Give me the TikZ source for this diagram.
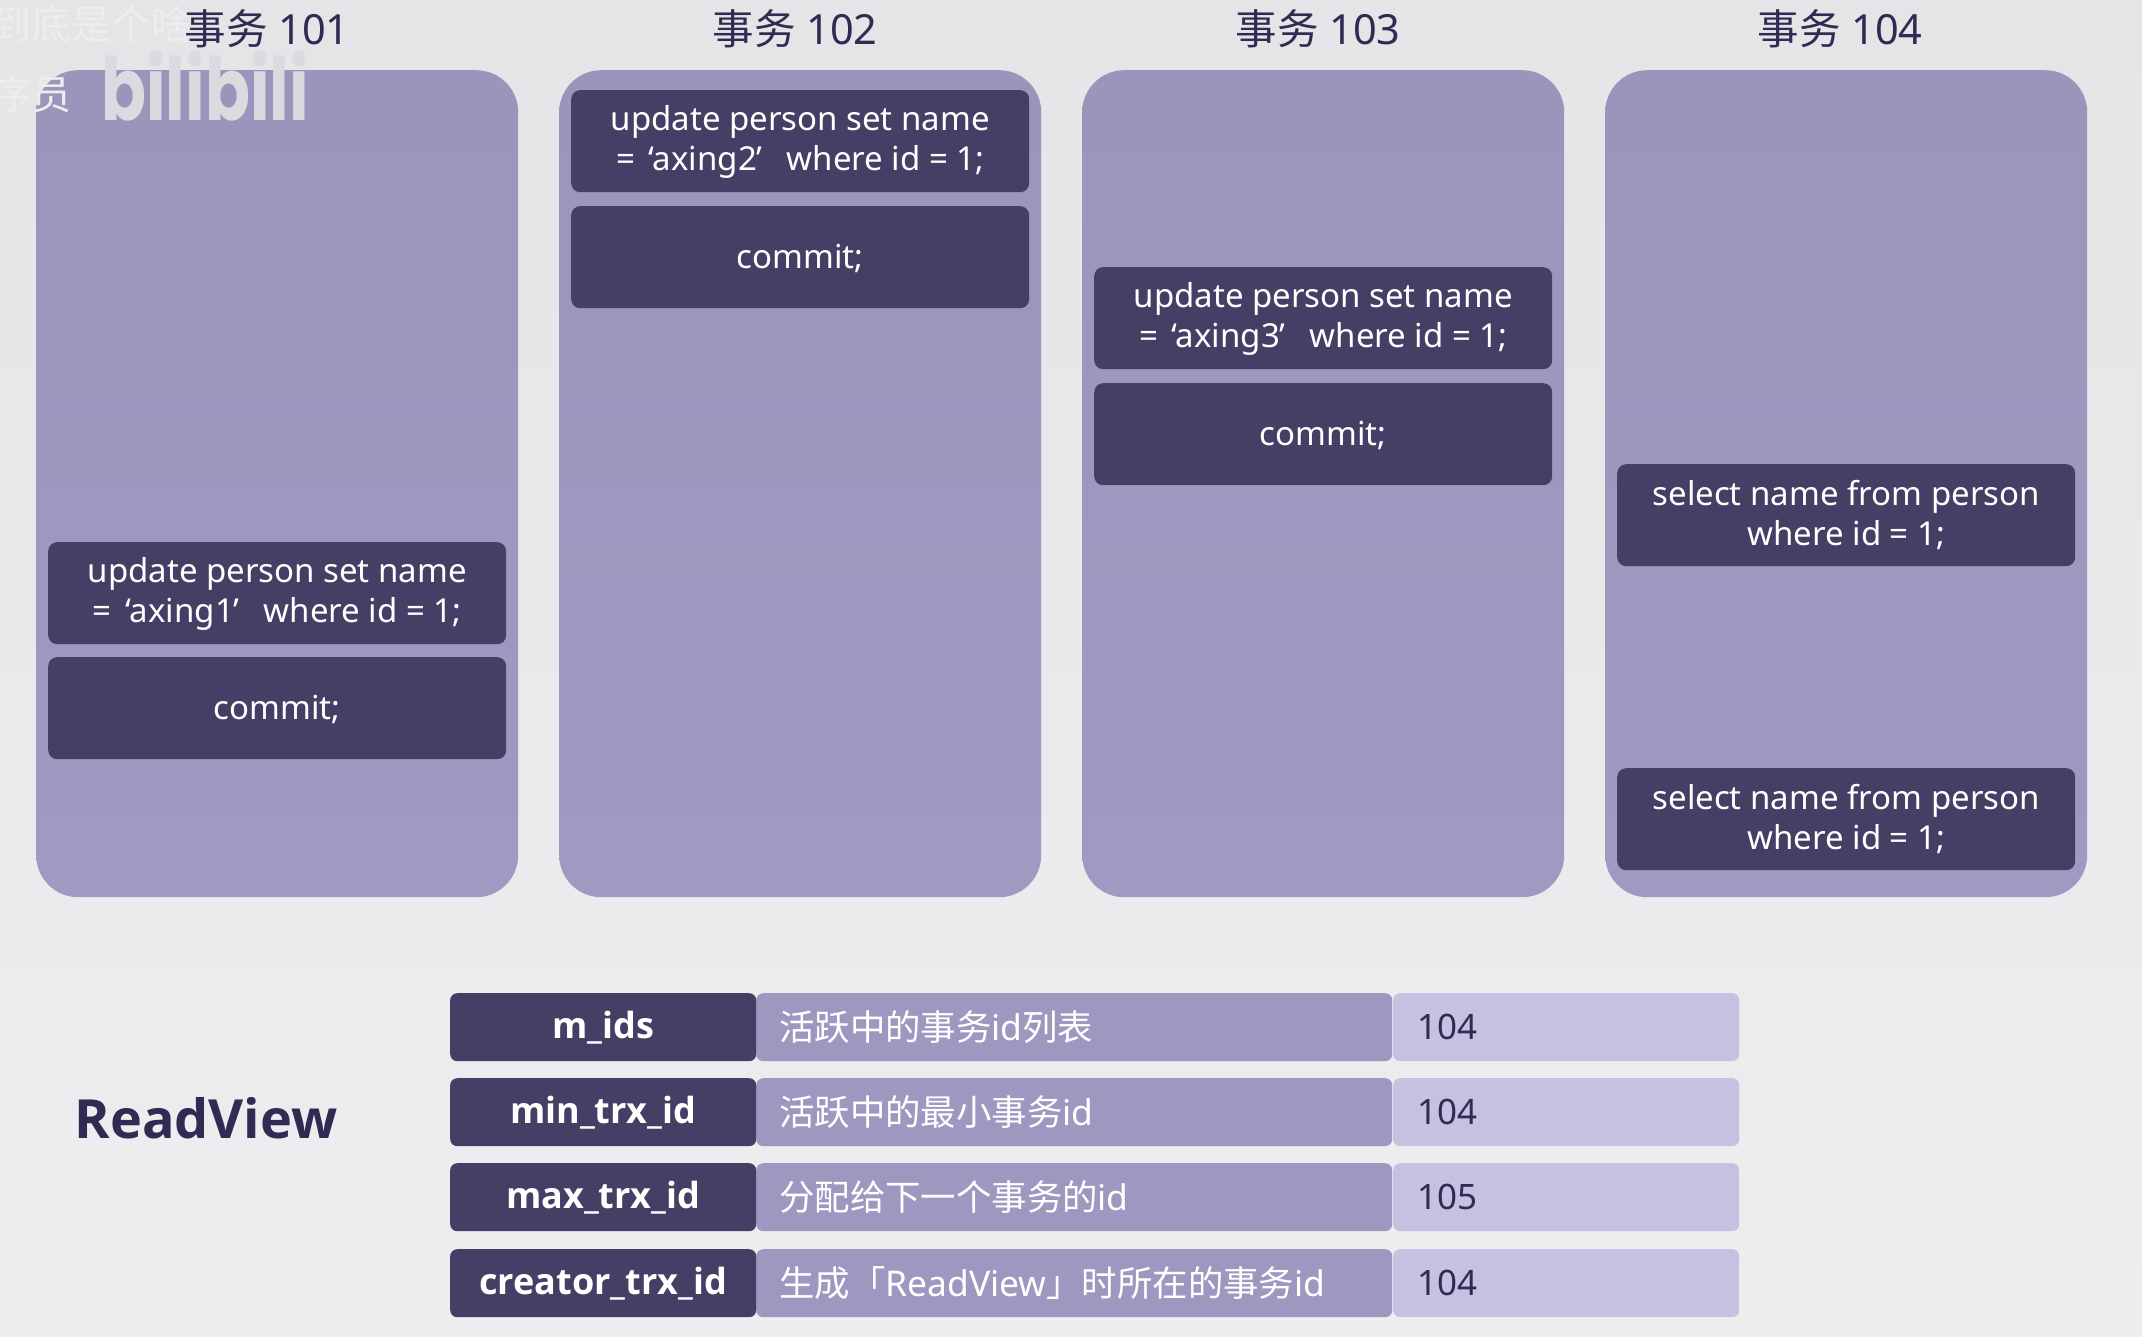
\documentclass[tikz,border=0pt]{standalone}
\usepackage{fontspec}
\setmainfont{Noto Sans}
\newfontfamily\boldface{Open Sans}
\newfontfamily\cjk{Noto Sans CJK SC}
\newfontfamily\logofont{Poppins}
\definecolor{bgtop}{HTML}{E5E4E6}
\definecolor{bgbot}{HTML}{EEEDEF}
\definecolor{colbot}{HTML}{A299C3}
\definecolor{coltop}{HTML}{9C94BA}
\definecolor{dark}{HTML}{463E64}
\definecolor{mid}{HTML}{A097C0}
\definecolor{light}{HTML}{C7C0E1}
\definecolor{ink}{HTML}{2F2B52}
\definecolor{wm}{HTML}{DBDAE1}
\definecolor{wmfaint}{HTML}{EDECEF}
\tikzset{
  x=1pt,y=-1pt,
  column/.style={anchor=north west,inner sep=0pt,minimum width=482pt,minimum height=827pt,rounded corners=42pt,top color=coltop,bottom color=colbot,draw=none},
  stmt/.style={anchor=north west,inner sep=0pt,minimum width=458pt,minimum height=102pt,rounded corners=9pt,fill=dark,text=white},
  stmttext/.style={inner sep=0pt,text=white,align=center,font=\fontsize{33}{40}\selectfont},
  head/.style={text=ink,font=\fontsize{41.5}{44}\selectfont,inner sep=0pt},
  keycell/.style={anchor=north west,inner sep=0pt,minimum width=306pt,minimum height=68pt,rounded corners=7pt,fill=dark,text=white,font=\boldface\fontsize{36}{40}\selectfont\bfseries},
  desccell/.style={anchor=north west,inner sep=0pt,minimum width=636pt,minimum height=68pt,rounded corners=7pt,fill=mid},
  valcell/.style={anchor=north west,inner sep=0pt,minimum width=346pt,minimum height=68pt,rounded corners=7pt,fill=light},
  desctext/.style={anchor=west,inner sep=0pt,text=white,font=\fontsize{35.4}{40}\selectfont},
  valtext/.style={anchor=west,inner sep=0pt,text=ink,font=\fontsize{35}{40}\selectfont},
  title/.style={text=ink,inner sep=0pt,font=\boldface\fontsize{54}{60}\selectfont\bfseries},
  wmtext/.style={text=wm,inner sep=0pt,font=\fontsize{40}{44}\selectfont},
}
\newcommand{\upd}[1]{update person set name\\=\hspace{5pt} ‘axing#1’\hspace{24pt}where id = 1;}
\newcommand{\sel}{select name from person\\where id = 1;}
\begin{document}
\begin{tikzpicture}
\useasboundingbox (0,0) rectangle (2142,1337);
\shade[top color=bgtop,bottom color=bgbot] (0,0) rectangle (2142,1337);
% transaction columns
\node[column] (c1) at (36,70) {};
\node[column] (c2) at (559,70) {};
\node[column] (c3) at (1082,70) {};
\node[column] (c4) at (1605,70) {};
% watermark
\node[wmtext,text=wmfaint,anchor=east] (wm1) at (192,24) {\cjk 到底是个啥};
\node[wmtext,text=wmfaint,anchor=east] (wm2) at (72,94) {\cjk 序员};
\node[text=wm,inner sep=0pt,font=\logofont\bfseries\fontsize{78}{80}\selectfont,anchor=center,xscale=0.85,yscale=1.12] (wm3) at (205,86) {bilibili};
% headings
\node[head] (h1) at (267,29) {{\cjk 事务} 101};
\node[head] (h2) at (795,29) {{\cjk 事务} 102};
\node[head] (h3) at (1318,29) {{\cjk 事务} 103};
\node[head] (h4) at (1840,29) {{\cjk 事务} 104};
% statements
\node[stmt] (u1) at (48,542) {};
\node[stmttext] (ut1) at ([yshift=-1pt]u1.center) {\upd{1}};
\node[stmt] (k1) at (48,657) {};
\node[stmttext] (kt1) at ([yshift=-1pt]k1.center) {commit;};
\node[stmt] (u2) at (571,90) {};
\node[stmttext] (ut2) at ([yshift=-1pt]u2.center) {\upd{2}};
\node[stmt] (k2) at (571,206) {};
\node[stmttext] (kt2) at ([yshift=-1pt]k2.center) {commit;};
\node[stmt] (u3) at (1094,267) {};
\node[stmttext] (ut3) at ([yshift=-1pt]u3.center) {\upd{3}};
\node[stmt] (k3) at (1094,383) {};
\node[stmttext] (kt3) at ([yshift=-1pt]k3.center) {commit;};
\node[stmt] (s1) at (1617,464) {};
\node[stmttext] (st1) at (s1.center) {\sel};
\node[stmt] (s2) at (1617,768) {};
\node[stmttext] (st2) at (s2.center) {\sel};
% ReadView
\node[title] (rv) at (206,1118) {ReadView};
\node[valcell] (v1) at (1393,993) {};
\node[valcell] (v2) at (1393,1078) {};
\node[valcell] (v3) at (1393,1163) {};
\node[valcell] (v4) at (1393,1249) {};
\node[desccell] (d1) at (756,993) {};
\node[desccell] (d2) at (756,1078) {};
\node[desccell] (d3) at (756,1163) {};
\node[desccell] (d4) at (756,1249) {};
\node[keycell] (n1) at (450,993) {m\_ids};
\node[keycell] (n2) at (450,1078) {min\_trx\_id};
\node[keycell] (n3) at (450,1163) {max\_trx\_id};
\node[keycell] (n4) at (450,1249) {creator\_trx\_id};
\node[desctext] (t1) at (779,1027) {{\cjk 活跃中的事务}id{\cjk 列表}};
\node[desctext] (t2) at (779,1112) {{\cjk 活跃中的最小事务}id};
\node[desctext] (t3) at (779,1197) {{\cjk 分配给下一个事务的}id};
\node[desctext] (t4) at (779,1283) {{\cjk 生成「}ReadView{\cjk 」时所在的事务}id};
\node[valtext] (w1) at (1417,1027) {104};
\node[valtext] (w2) at (1417,1112) {104};
\node[valtext] (w3) at (1417,1197) {105};
\node[valtext] (w4) at (1417,1283) {104};
\end{tikzpicture}
\end{document}
